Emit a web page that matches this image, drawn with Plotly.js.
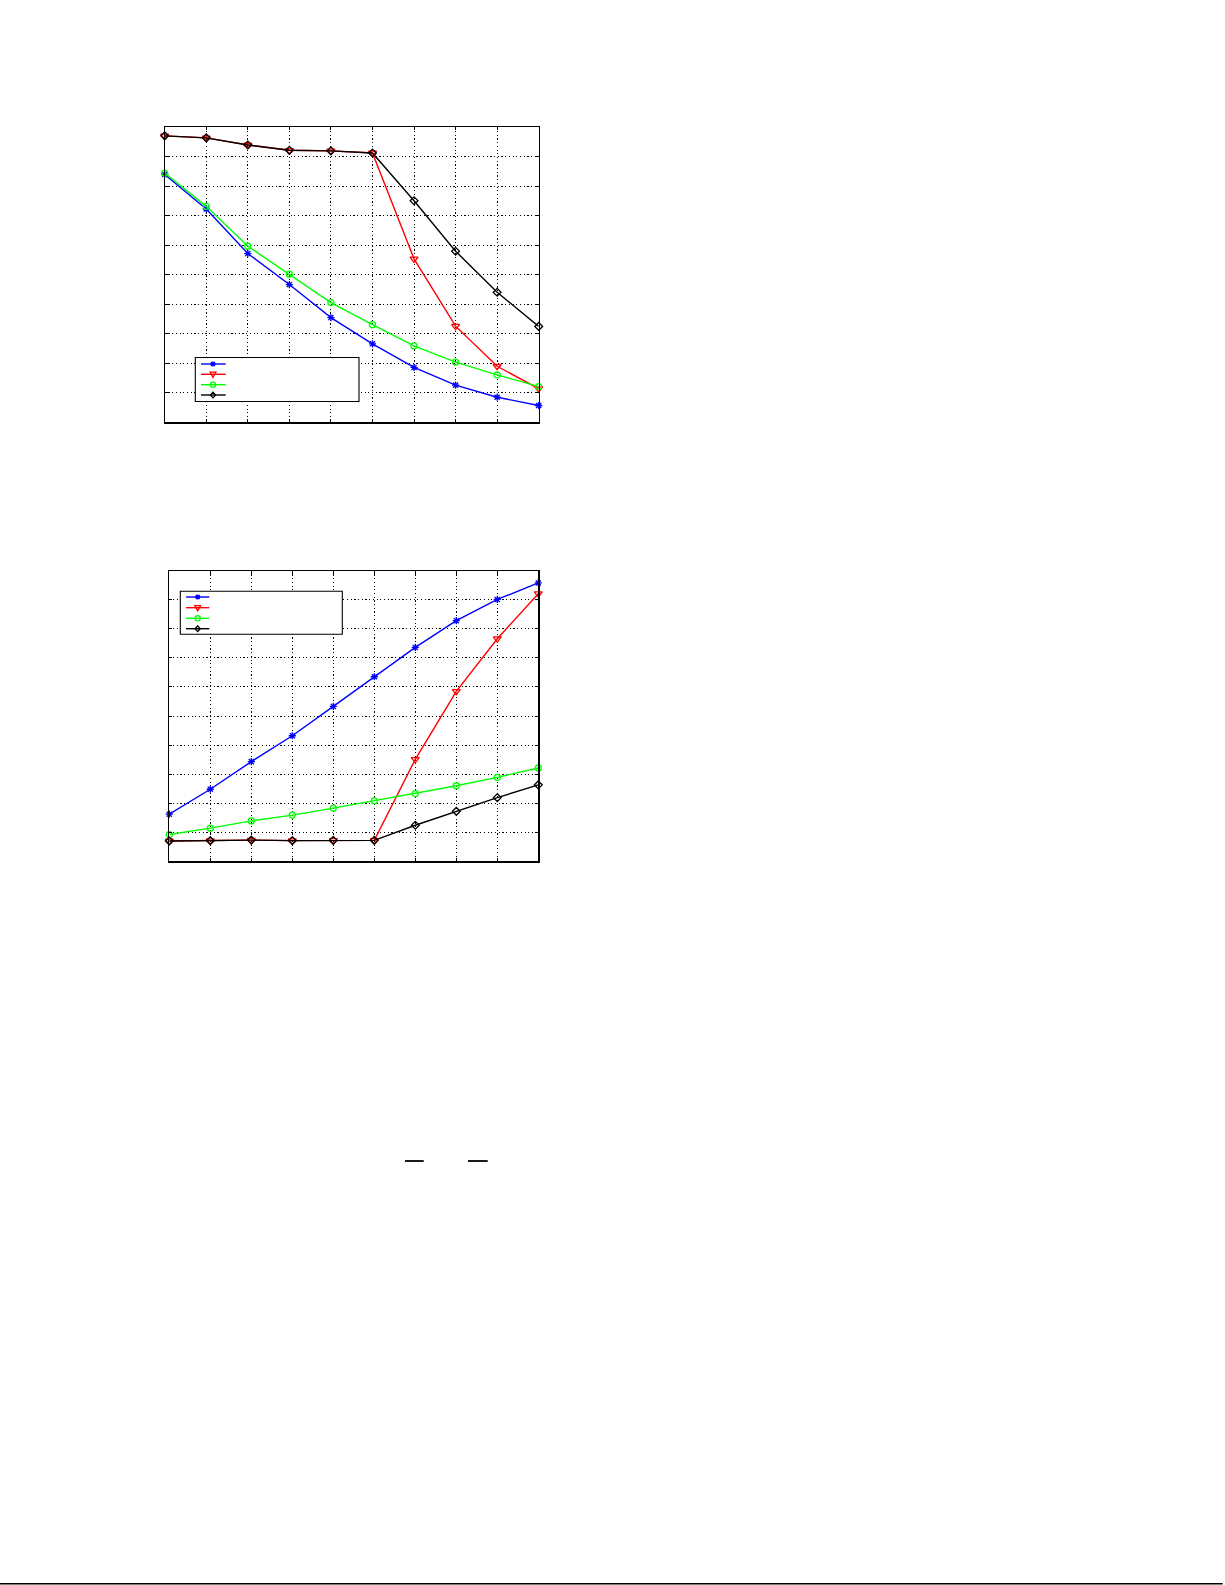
<!DOCTYPE html>
<html>
<head>
<meta charset="utf-8">
<script src="https://cdn.plot.ly/plotly-3.0.1.min.js"></script>
<style>
  html, body { margin: 0; padding: 0; background: #fff; }
  #myDiv { width: 1225px; height: 1585px; }
</style>
</head>
<body>
<div id="myDiv"></div>
<script>
// step index along x (no tick labels are printed on the page)
var xSteps = [1, 2, 3, 4, 5, 6, 7, 8, 9, 10];

// upper chart
var topBlue  = [8.40, 7.23, 5.72, 4.67, 3.55, 2.66, 1.86, 1.26, 0.85, 0.57];
var topRed   = [9.71, 9.64, 9.40, 9.22, 9.20, 9.13, 5.54, 3.26, 1.90, 1.14];
var topGreen = [8.45, 7.32, 5.97, 5.02, 4.06, 3.31, 2.59, 2.04, 1.61, 1.21];
var topBlack = [9.71, 9.64, 9.40, 9.22, 9.20, 9.13, 7.51, 5.80, 4.41, 3.25];

// lower chart
var botBlue  = [1.62, 2.48, 3.43, 4.32, 5.33, 6.35, 7.36, 8.28, 9.01, 9.58];
var botRed   = [0.70, 0.71, 0.73, 0.71, 0.72, 0.72, 3.51, 5.85, 7.66, 9.21];
var botGreen = [0.92, 1.14, 1.39, 1.59, 1.83, 2.08, 2.33, 2.60, 2.89, 3.21];
var botBlack = [0.70, 0.71, 0.73, 0.71, 0.72, 0.72, 1.24, 1.72, 2.19, 2.63];

var W = 1225, H = 1585;
function px(x) { return x / W; }
function py(y) { return 1 - y / H; }

var styles = [
    {color: '#0000ff', symbol: 'asterisk-open', size: 6},
    {color: '#ff0000', symbol: 'triangle-down-open', size: 7},
    {color: '#00ff00', symbol: 'circle-open', size: 6},
    {color: '#000000', symbol: 'diamond-open', size: 6}
];

function makeTrace(values, st, xa, ya) {
    return {
        x: xSteps,
        y: values,
        xaxis: xa,
        yaxis: ya,
        type: 'scatter',
        mode: 'lines+markers',
        line: {color: st.color, width: 1.4},
        marker: {symbol: st.symbol, size: st.size, color: st.color, line: {color: st.color, width: 1.3}},
        cliponaxis: false,
        hoverinfo: 'skip',
        showlegend: false
    };
}

var data = [];
[topBlue, topRed, topGreen, topBlack].forEach(function(v, i) {
    data.push(makeTrace(v, styles[i], 'x', 'y'));
});
[botBlue, botRed, botGreen, botBlack].forEach(function(v, i) {
    data.push(makeTrace(v, styles[i], 'x2', 'y2'));
});

function axis(domain, range, anchor) {
    return {
        domain: domain,
        range: range,
        anchor: anchor,
        dtick: 1,
        tick0: 0,
        showticklabels: false,
        ticks: 'inside',
        ticklen: 3,
        tickwidth: 1,
        tickcolor: '#000',
        showline: true,
        linecolor: '#000',
        linewidth: 1.2,
        mirror: 'ticks',
        showgrid: true,
        gridcolor: '#000',
        gridwidth: 1,
        griddash: '1.2px,2.5px',
        zeroline: false,
        fixedrange: true
    };
}

// hand-drawn legend boxes (the page carries no legend text)
function legendShapes(box, sx0, sx1, mx, rows) {
    var out = [{
        type: 'rect', xref: 'paper', yref: 'paper',
        x0: px(box[0]), x1: px(box[1]), y0: py(box[2]), y1: py(box[3]),
        line: {color: '#000', width: 1.1}, fillcolor: '#fff', layer: 'above'
    }];
    var r = 2.6;
    rows.forEach(function(ry, i) {
        var c = styles[i].color;
        out.push({
            type: 'line', xref: 'paper', yref: 'paper',
            x0: px(sx0), x1: px(sx1), y0: py(ry), y1: py(ry),
            line: {color: c, width: 1.4}
        });
        var p;
        if (i === 0) {
            p = 'M' + px(mx - r) + ',' + py(ry) + 'L' + px(mx + r) + ',' + py(ry) +
                'M' + px(mx) + ',' + py(ry - r) + 'L' + px(mx) + ',' + py(ry + r) +
                'M' + px(mx - r * 0.75) + ',' + py(ry - r * 0.75) + 'L' + px(mx + r * 0.75) + ',' + py(ry + r * 0.75) +
                'M' + px(mx - r * 0.75) + ',' + py(ry + r * 0.75) + 'L' + px(mx + r * 0.75) + ',' + py(ry - r * 0.75);
        } else if (i === 1) {
            p = 'M' + px(mx - r * 1.1) + ',' + py(ry - r * 0.8) + 'L' + px(mx + r * 1.1) + ',' + py(ry - r * 0.8) +
                'L' + px(mx) + ',' + py(ry + r * 1.2) + 'Z';
        } else if (i === 2) {
            out.push({
                type: 'circle', xref: 'paper', yref: 'paper',
                x0: px(mx - r), x1: px(mx + r), y0: py(ry - r), y1: py(ry + r),
                line: {color: c, width: 1.3}
            });
            return;
        } else {
            p = 'M' + px(mx) + ',' + py(ry - r * 1.1) + 'L' + px(mx + r) + ',' + py(ry) +
                'L' + px(mx) + ',' + py(ry + r * 1.1) + 'L' + px(mx - r) + ',' + py(ry) + 'Z';
        }
        out.push({type: 'path', xref: 'paper', yref: 'paper', path: p, line: {color: c, width: 1.3}});
    });
    return out;
}

var shapes = []
    .concat(legendShapes([195.3, 359, 357.5, 401.5], 201, 225.7, 213, [364, 374.3, 384.7, 395]))
    .concat(legendShapes([180.3, 342.3, 591.3, 634.3], 186, 209.3, 197.7, [597, 607.7, 618.3, 628.7]));

// page marks: two short bars and the bottom rule
shapes.push({type: 'line', xref: 'paper', yref: 'paper', x0: px(405), x1: px(423.7), y0: py(1161), y1: py(1161), line: {color: '#000', width: 1.8}});
shapes.push({type: 'line', xref: 'paper', yref: 'paper', x0: px(468), x1: px(487.7), y0: py(1161), y1: py(1161), line: {color: '#000', width: 1.8}});
shapes.push({type: 'line', xref: 'paper', yref: 'paper', x0: 0, x1: px(1222.7), y0: py(1583.8), y1: py(1583.8), line: {color: '#000', width: 1.5}});

var layout = {
    width: W,
    height: H,
    margin: {l: 0, r: 0, t: 0, b: 0},
    paper_bgcolor: '#fff',
    plot_bgcolor: '#fff',
    showlegend: false,
    xaxis: axis([px(164.7), px(538.7)], [1, 10], 'y'),
    yaxis: axis([py(422.3), py(127.3)], [0, 10], 'x'),
    xaxis2: axis([px(169.3), px(538.3)], [1, 10], 'y2'),
    yaxis2: axis([py(861.3), py(570.7)], [0, 10], 'x2'),
    shapes: shapes
};

Plotly.newPlot('myDiv', data, layout, {staticPlot: true, displayModeBar: false});
</script>
</body>
</html>
